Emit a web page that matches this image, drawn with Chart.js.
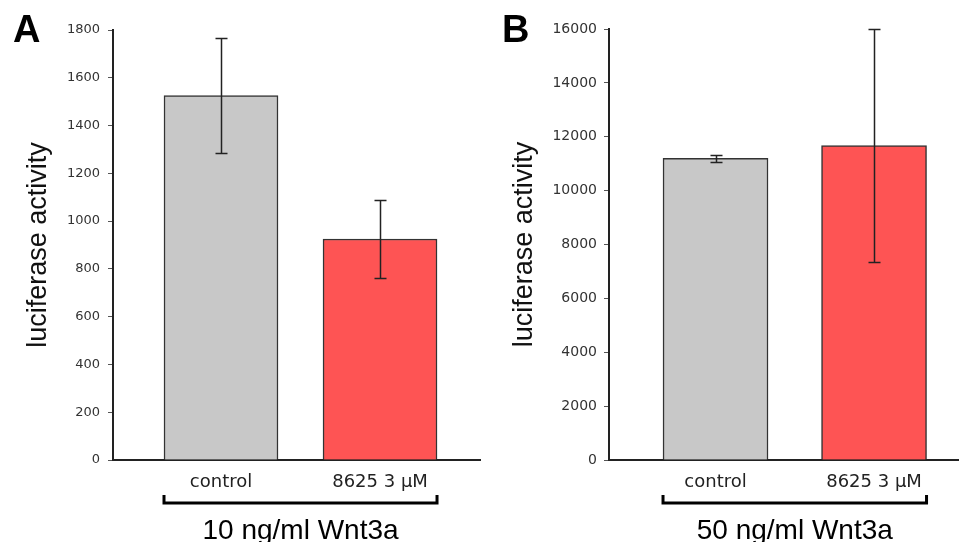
<!DOCTYPE html>
<html>
<head>
<meta charset="utf-8">
<script src="https://cdn.jsdelivr.net/npm/chart.js@4.4.0/dist/chart.umd.min.js"></script>
<style>
    html, body { margin: 0; padding: 0; background: #fff; }
    body { width: 959px; height: 542px; position: relative; overflow: hidden; }
    .panel { position: absolute; top: 0; height: 542px; }
    #panelA { left: 0; width: 481px; }
    #panelB { left: 481px; width: 478px; }
    .letter { position: absolute; top: 10px; font: bold 38px "Liberation Sans", Arial, sans-serif; line-height: 1; color: #000; }
</style>
</head>
<body>
<div class="panel" id="panelA"><canvas id="chartA"></canvas></div>
<div class="panel" id="panelB"><canvas id="chartB"></canvas></div>
<div class="letter" style="left:13px">A</div>
<div class="letter" style="left:502px">B</div>

<script>
// ===== Data =====
const categories = ['control', '8625 3 \u03BCM'];
const barColors = ['#c8c8c8', '#fe5454'];

const wnt10Means = [1525, 925];
const wnt10Errors = [240, 162];
const wnt10Ticks = [0, 200, 400, 600, 800, 1000, 1200, 1400, 1600, 1800];

const wnt50Means = [11200, 11670];
const wnt50Errors = [120, 4330];
const wnt50Ticks = [0, 2000, 4000, 6000, 8000, 10000, 12000, 14000, 16000];

const groupLabels = ['10 ng/ml Wnt3a', '50 ng/ml Wnt3a'];

// error bars drawn from the means/errors through the y scale
const errorBarPlugin = {
    id: 'errorBars',
    afterDatasetsDraw(chart, args, opts) {
        const { ctx } = chart;
        const y = chart.scales.y;
        const meta = chart.getDatasetMeta(0);
        const means = chart.data.datasets[0].data.map(d => d.y);
        ctx.save();
        ctx.strokeStyle = '#222';
        ctx.lineWidth = 1.5;
        meta.data.forEach((bar, i) => {
            const top = Math.round(y.getPixelForValue(means[i] + opts.errors[i])) + 0.5;
            const bottom = Math.round(y.getPixelForValue(means[i] - opts.errors[i])) + 0.5;
            const x = Math.round(bar.x) + 0.5;
            ctx.beginPath();
            ctx.moveTo(x, top); ctx.lineTo(x, bottom);
            ctx.moveTo(x - 6, top); ctx.lineTo(x + 6, top);
            ctx.moveTo(x - 6, bottom); ctx.lineTo(x + 6, bottom);
            ctx.stroke();
        });
        ctx.restore();
    }
};

// bracket under the category labels with the group label
const bracketPlugin = {
    id: 'bracket',
    afterDraw(chart, args, opts) {
        const { ctx, chartArea } = chart;
        const meta = chart.getDatasetMeta(0);
        const first = meta.data[0], last = meta.data[meta.data.length - 1];
        const left = first.x - first.width / 2;
        const right = last.x + last.width / 2;
        const yLine = chartArea.bottom + 43;
        ctx.save();
        ctx.strokeStyle = '#000';
        ctx.lineWidth = 3;
        ctx.beginPath();
        ctx.moveTo(left, yLine - 8);
        ctx.lineTo(left, yLine);
        ctx.lineTo(right, yLine);
        ctx.lineTo(right, yLine - 8);
        ctx.stroke();
        ctx.fillStyle = '#000';
        ctx.font = '28px "Liberation Sans", Arial, sans-serif';
        ctx.textAlign = 'center';
        ctx.textBaseline = 'alphabetic';
        ctx.fillText(opts.label, (left + right) / 2, chartArea.bottom + 79);
        ctx.restore();
    }
};

function makePanel(canvasId, means, errors, ticks, label, cfg) {
    return new Chart(document.getElementById(canvasId), {
        type: 'bar',
        data: {
            datasets: [{
                data: means.map((v, i) => ({ x: i + 1, y: v })),
                backgroundColor: barColors,
                borderColor: '#333',
                borderWidth: 1.5,
                barThickness: cfg.barWidth
            }]
        },
        options: {
            responsive: true,
            maintainAspectRatio: false,
            animation: false,
            layout: { padding: { top: cfg.top, left: 0, right: 0, bottom: 0 } },
            plugins: {
                legend: { display: false },
                tooltip: { enabled: false },
                errorBars: { errors },
                bracket: { label }
            },
            scales: {
                x: {
                    type: 'linear',
                    offset: false,
                    min: cfg.xMin,
                    max: cfg.xMax,
                    afterBuildTicks: s => { s.ticks = categories.map((c, i) => ({ value: i + 1 })); },
                    afterFit: s => { s.height = 82; },
                    grid: { display: false, drawTicks: false },
                    border: { display: true, color: '#222', width: 2 },
                    ticks: {
                        padding: 12,
                        color: '#222',
                        font: { family: 'DejaVu Sans', size: 18 },
                        callback: v => categories[v - 1]
                    }
                },
                y: {
                    min: 0,
                    max: ticks[ticks.length - 1],
                    afterBuildTicks: s => { s.ticks = ticks.map(v => ({ value: v })); },
                    afterFit: s => { s.width = cfg.yWidth; },
                    grid: { drawOnChartArea: false, tickLength: 5, color: '#555', lineWidth: 1 },
                    border: { display: true, color: '#222', width: 2 },
                    ticks: {
                        padding: cfg.tickPad,
                        color: '#333',
                        font: { family: 'DejaVu Sans', size: cfg.tickSize },
                        callback: v => v
                    },
                    title: {
                        display: true,
                        text: 'luciferase activity',
                        color: '#111',
                        font: { family: 'Liberation Sans', size: 27 },
                        padding: { top: cfg.titlePad, bottom: 0 }
                    }
                }
            }
        },
        plugins: [errorBarPlugin, bracketPlugin]
    });
}

makePanel('chartA', wnt10Means, wnt10Errors, wnt10Ticks, groupLabels[0],
    { top: 30, yWidth: 113, xMin: 0.3208, xMax: 2.635, barWidth: 114, tickPad: 8, tickSize: 13, titlePad: 22 });
makePanel('chartB', wnt50Means, wnt50Errors, wnt50Ticks, groupLabels[1],
    { top: 29, yWidth: 128, xMin: 0.328, xMax: 2.536, barWidth: 105, tickPad: 7, tickSize: 14, titlePad: 27 });
</script>
</body>
</html>
